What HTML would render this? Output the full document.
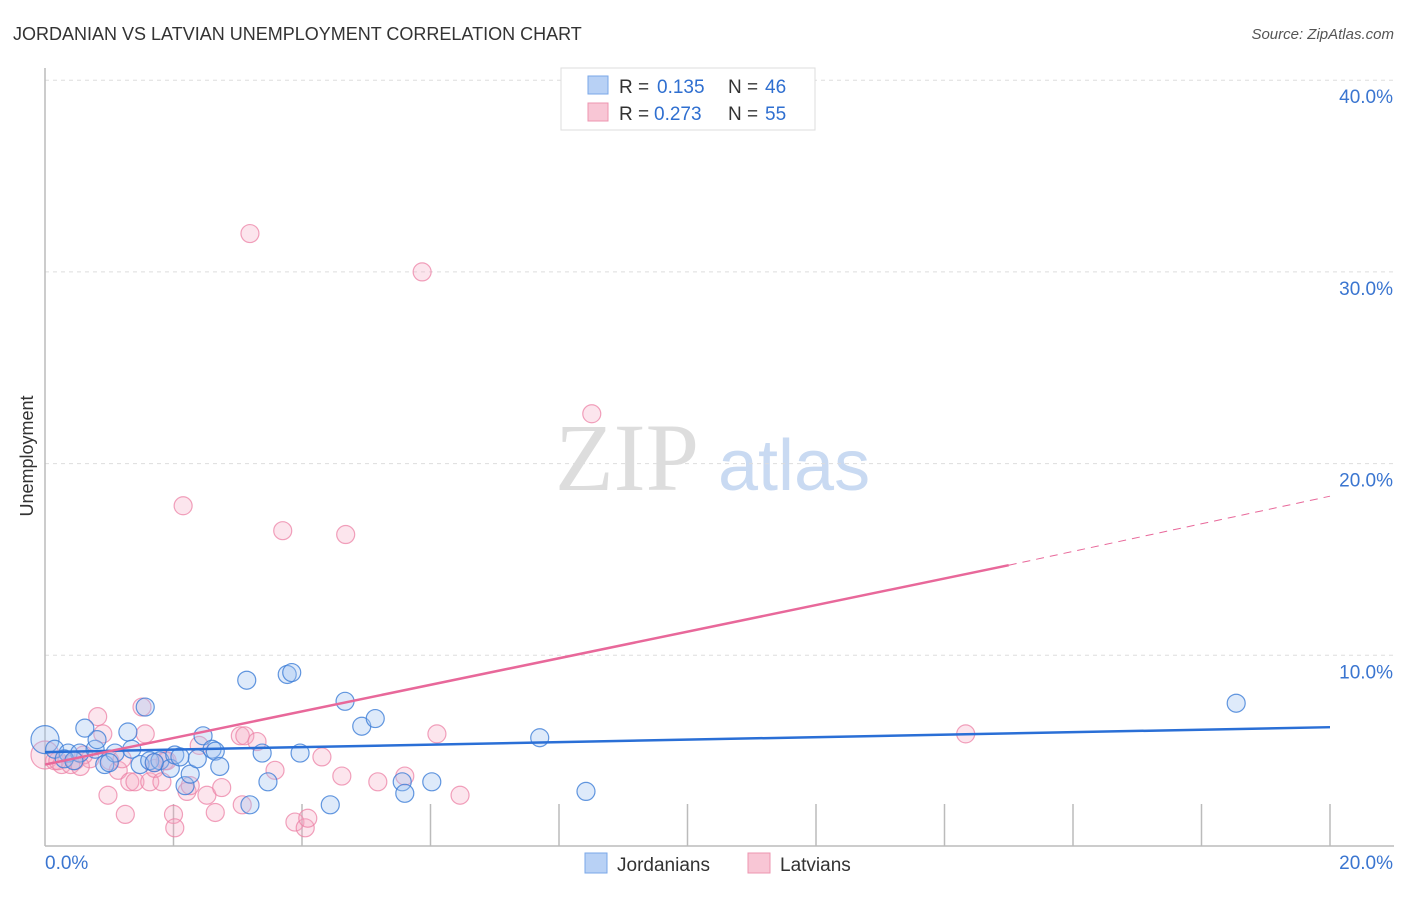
<!DOCTYPE html>
<html><head><meta charset="utf-8"><style>
body{margin:0;background:#fff;font-family:"Liberation Sans",sans-serif;}
</style></head><body>
<svg id="chart" width="1406" height="892" xmlns="http://www.w3.org/2000/svg">
<text x="13" y="40" font-size="18" fill="#333">JORDANIAN VS LATVIAN UNEMPLOYMENT CORRELATION CHART</text>
<text x="1394" y="39" font-size="15" fill="#555" font-style="italic" text-anchor="end">Source: ZipAtlas.com</text>
<text x="555" y="490" font-size="96" fill="#ddd" font-family="Liberation Serif,serif">ZIP</text>
<text x="718" y="490" font-size="72" fill="#c9daf2">atlas</text>
<g id="grid"></g>
<g id="axes"></g>
<g id="pts"></g>
<g id="trend"></g>
<text transform="translate(33,456) rotate(-90)" font-size="18" fill="#333" text-anchor="middle">Unemployment</text>
<g>
<rect x="561" y="68" width="254" height="62" fill="#fff" stroke="#ddd"/>
<rect x="588" y="76" width="20" height="18" fill="#b8d1f5" stroke="#7aa7e8"/>
<text x="619" y="93" font-size="19" fill="#333">R =</text>
<text x="657" y="93" font-size="19" fill="#2f6fd0">0.135</text>
<text x="728" y="93" font-size="19" fill="#333">N =</text>
<text x="765" y="93" font-size="19" fill="#2f6fd0">46</text>
<rect x="588" y="103" width="20" height="18" fill="#f8c6d5" stroke="#ee95b0"/>
<text x="619" y="120" font-size="19" fill="#333">R =</text>
<text x="654" y="120" font-size="19" fill="#2f6fd0">0.273</text>
<text x="728" y="120" font-size="19" fill="#333">N =</text>
<text x="765" y="120" font-size="19" fill="#2f6fd0">55</text>
</g>
<g>
<rect x="585" y="853" width="22" height="20" fill="#b8d1f5" stroke="#7aa7e8"/>
<text x="617" y="871" font-size="19" fill="#333">Jordanians</text>
<rect x="748" y="853" width="22" height="20" fill="#f8c6d5" stroke="#ee95b0"/>
<text x="780" y="871" font-size="19" fill="#333">Latvians</text>
</g>
</svg>
<script>
const yTicks=[10,20,30,40];
const yTickLabels=["10.0%","20.0%","30.0%","40.0%"];
const jordX=[0,0.15,0.36,0.54,0.78,0.81,0.62,0.93,1.09,1.29,1.35,1.48,1.56,1.63,1.79,1.95,2.02,2.18,2.26,2.37,2.46,2.6,2.65,2.72,3.14,3.19,3.38,3.47,3.77,3.84,3.97,4.44,4.67,4.93,5.14,5.56,5.6,6.02,7.7,8.42,18.54,0.3,1.0,2.1,0.45,1.7];
const jordY=[5.6,5.1,4.9,4.9,5.1,5.6,6.2,4.3,4.9,6.0,5.1,4.3,7.3,4.5,4.5,4.1,4.8,3.2,3.8,4.6,5.8,5.1,5.0,4.2,8.7,2.2,4.9,3.4,9.0,9.1,4.9,2.2,7.6,6.3,6.7,3.4,2.8,3.4,5.7,2.9,7.5,4.6,4.4,4.7,4.5,4.4];
const latX=[0,0.15,0.26,0.47,0.7,0.82,0.9,0.98,1.01,1.14,1.25,1.32,1.4,1.51,1.56,1.63,1.71,1.82,1.87,2.0,2.02,2.15,2.21,2.26,2.52,2.65,2.75,3.04,3.07,3.11,3.19,3.58,3.7,3.89,4.05,4.09,4.31,4.62,4.68,5.18,5.6,5.87,6.1,6.46,8.51,14.33,0.4,0.6,1.2,1.9,2.4,0.2,0.55,1.7,3.3];
const latY=[4.8,4.5,4.3,4.5,4.6,6.8,5.9,2.7,4.5,4.0,1.7,3.4,3.4,7.3,5.9,3.4,4.1,3.4,4.5,1.7,1.0,17.8,2.9,3.2,2.7,1.8,3.1,5.8,2.2,5.8,32.0,4.0,16.5,1.3,1.0,1.5,4.7,3.7,16.3,3.4,3.7,30.0,5.9,2.7,22.6,5.9,4.3,4.8,4.6,4.5,5.3,4.5,4.2,4.4,5.5];
const blueTrend=[[0,4.95],[20,6.25]];
const pinkTrend=[[0,4.3],[15,14.7],[20,18.3]];
const X=v=>45+v*64.25, Y=v=>847-v*19.17;
const NS="http://www.w3.org/2000/svg";
function mk(tag,attrs,parent){const e=document.createElementNS(NS,tag);for(const k in attrs)e.setAttribute(k,attrs[k]);parent.appendChild(e);return e;}
const grid=document.getElementById('grid'),axes=document.getElementById('axes'),pts=document.getElementById('pts'),tr=document.getElementById('trend');
yTicks.forEach((t,i)=>{
 const l=mk('line',{x1:45,x2:1394,y1:Y(t),y2:Y(t),stroke:'#ddd','stroke-dasharray':'4,4'},grid);
 
 
 const tx=mk('text',{x:1393,y:Y(t)+23,'font-size':19,fill:'#3a75d0','text-anchor':'end'},grid);
 tx.textContent=yTickLabels[i];
 
 
});
const ya=mk('line',{x1:45,x2:45,y1:68,y2:846,stroke:'#bbb','stroke-width':1.5},axes);


const xa=mk('line',{x1:45,x2:1394,y1:846,y2:846,stroke:'#bbb','stroke-width':1.5},axes);


for(let i=1;i<=10;i++){
 const tk=mk('line',{x1:X(i*2),x2:X(i*2),y1:804,y2:846,stroke:'#bbb','stroke-width':1.5},axes);
 
 
}
const x0=mk('text',{x:45,y:869,'font-size':19,fill:'#3a75d0'},axes);x0.textContent='0.0%';


const x1=mk('text',{x:1393,y:869,'font-size':19,fill:'#3a75d0','text-anchor':'end'},axes);x1.textContent='20.0%';


latX.forEach((v,i)=>{
 const c=mk('circle',{cx:X(v),cy:Y(latY[i]),r:i==0?14:9,fill:'rgba(246,170,195,0.3)',stroke:'rgba(236,130,165,0.75)','stroke-width':1.2},pts);
 
 
});
jordX.forEach((v,i)=>{
 const c=mk('circle',{cx:X(v),cy:Y(jordY[i]),r:i==0?14:9,fill:'rgba(160,195,240,0.35)',stroke:'rgba(60,125,215,0.8)','stroke-width':1.2},pts);
 
 
});
const bl=mk('line',{x1:X(blueTrend[0][0]),y1:Y(blueTrend[0][1]),x2:X(blueTrend[1][0]),y2:Y(blueTrend[1][1]),stroke:'#2a6fd6','stroke-width':2.5},tr);


const pl=mk('line',{x1:X(pinkTrend[0][0]),y1:Y(pinkTrend[0][1]),x2:X(pinkTrend[1][0]),y2:Y(pinkTrend[1][1]),stroke:'#e8689a','stroke-width':2.5},tr);


const pd=mk('line',{x1:X(pinkTrend[1][0]),y1:Y(pinkTrend[1][1]),x2:X(pinkTrend[2][0]),y2:Y(pinkTrend[2][1]),stroke:'#e8689a','stroke-width':1,'stroke-dasharray':'8,6'},tr);


</script>
</body></html>
